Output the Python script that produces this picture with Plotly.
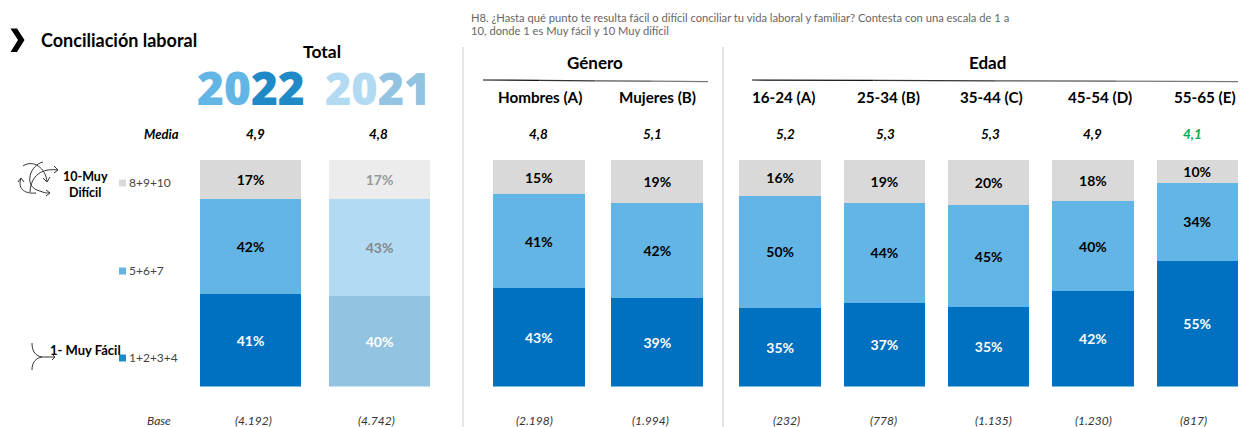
import plotly.graph_objects as go

W, H = 1242, 427
FONT = "Lato"

# ---- data ----
total_cats = ["2022", "2021"]
total_low = [41, 40]
total_mid = [42, 43]
total_high = [17, 17]

gender_cats = ["Hombres (A)", "Mujeres (B)"]
gender_low = [43, 39]
gender_mid = [41, 42]
gender_high = [15, 19]

age_cats = ["16-24 (A)", "25-34 (B)", "35-44 (C)", "45-54 (D)", "55-65 (E)"]
age_low = [35, 37, 35, 42, 55]
age_mid = [50, 44, 45, 40, 34]
age_high = [16, 19, 20, 18, 10]

media_labels = ["4,9", "4,8", "4,8", "5,1", "5,2", "5,3", "5,3", "4,9", "4,1"]
base_labels = ["(4.192)", "(4.742)", "(2.198)", "(1.994)", "(232)", "(778)", "(1.135)", "(1.230)", "(817)"]
legend_labels = ["8+9+10", "5+6+7", "1+2+3+4"]

# ---- styles ----
C_HIGH, C_MID, C_LOW = "#d9d9d9", "#63b5e5", "#0070c0"
C_HIGH_L, C_MID_L, C_LOW_L = "#ececec", "#b2daf3", "#92c3e0"
C_LEG_LOW = "#1f8ac6"


def px(x):
    return x / W


def py(y):
    return 1 - y / H


fig = go.Figure()


def add_stack(cats, low, mid, high, xa, ya, width, faded=False):
    n = len(cats)
    rows = [
        (low, C_LOW, C_LOW_L, "white", "white"),
        (mid, C_MID, C_MID_L, "black", "#888888"),
        (high, C_HIGH, C_HIGH_L, "black", "#999999"),
    ]
    for vals, col, col_l, tc, tc_l in rows:
        fade = [faded and i == 1 for i in range(n)]
        fig.add_trace(go.Bar(
            x=cats, y=vals, xaxis=xa, yaxis=ya, width=width,
            marker=dict(color=[col_l if f else col for f in fade], line=dict(width=0)),
            text=[f"{v}%" for v in vals],
            textposition="inside", insidetextanchor="middle", textangle=0,
            constraintext="none",
            textfont=dict(family=FONT, size=14, weight=700,
                          color=[tc_l if f else tc for f in fade]),
            showlegend=False, hoverinfo="skip",
        ))


add_stack(total_cats, total_low, total_mid, total_high, "x", "y", 0.783, faded=True)
add_stack(gender_cats, gender_low, gender_mid, gender_high, "x2", "y2", 0.78)
add_stack(age_cats, age_low, age_mid, age_high, "x3", "y3", 0.78)

ydom = [py(386.5), py(160)]
hidden = dict(visible=False, fixedrange=True)
fig.update_layout(
    width=W, height=H, margin=dict(l=0, r=0, t=0, b=0, pad=0),
    paper_bgcolor="white", plot_bgcolor="white",
    barmode="stack", barnorm="percent", showlegend=False,
    xaxis=dict(domain=[px(186), px(444)], range=[-0.5, 1.5], type="category", **hidden),
    xaxis2=dict(domain=[px(479.5), px(716.5)], range=[-0.5, 1.5], type="category", **hidden),
    xaxis3=dict(domain=[px(728), 1], range=[-0.5, 4.43], type="category", **hidden),
    yaxis=dict(domain=ydom, range=[0, 100], anchor="x", **hidden),
    yaxis2=dict(domain=ydom, range=[0, 100], anchor="x2", **hidden),
    yaxis3=dict(domain=ydom, range=[0, 100], anchor="x3", **hidden),
)


def txt(s, x, y, size, color="black", anchor="center", weight=400, italic=False, family=FONT, height=None):
    fig.add_annotation(
        text=s, xref="paper", yref="paper", x=px(x), y=py(y),
        xanchor=anchor, yanchor="middle", showarrow=False, align="left", height=height,
        font=dict(family=family, size=size, color=color, weight=weight,
                  style="italic" if italic else "normal"),
    )


def path(d, color="#333333", width=1, fill=None):
    parts = []
    for cmd in d:
        if isinstance(cmd, str):
            parts.append(cmd)
        else:
            parts.append(f"{px(cmd[0]):.5f},{py(cmd[1]):.5f}")
    s = " ".join(parts)
    fig.add_shape(type="path", path=s, xref="paper", yref="paper",
                  line=dict(color=color, width=width),
                  fillcolor=fill if fill else "rgba(0,0,0,0)")


# title and chevron
path(["M", (10.5, 28.5), "L", (17, 28.5), "L", (24.5, 40), "L", (17, 52), "L", (10.5, 52), "L", (18, 40), "Z"],
     color="black", width=0, fill="black")
txt("Conciliación laboral", 39, 39.5, 18, anchor="left", weight=700)
txt("Total", 322, 51, 17.5, weight=700)

# year headers with their two-tone digits
txt('<span style="color:#63b5e5">20</span><span style="color:#1f8ac6">22</span>', 251, 87, 46, weight=800,
    family="Open Sans", height=36)
txt('<span style="color:#b2daf3">20</span><span style="color:#92c3e0">21</span>', 377, 87, 45, weight=800,
    family="Open Sans", height=36)

# question text
txt("H8. ¿Hasta qué punto te resulta fácil o difícil conciliar tu vida laboral y familiar? Contesta con una escala de 1 a",
    469, 17, 11.2, color="#666666", anchor="left")
txt("10, donde 1 es Muy fácil y 10 Muy difícil", 469, 31, 11.2, color="#666666", anchor="left")

# group headers
txt("Género", 595, 63, 17, weight=700)
txt("Edad", 987, 63, 17, weight=700)
for x, c in zip([540, 657, 783, 888, 991, 1100, 1205], gender_cats + age_cats):
    txt(c, x, 97, 15.2, weight=700)

# mean and base rows
txt("Media", 161, 134, 13, italic=True, weight=700)
media_x = [255, 378, 538, 652, 785, 886, 990, 1092, 1192]
for i, (x, s) in enumerate(zip(media_x, media_labels)):
    txt(s, x, 134, 13.5, italic=True, weight=700, color="#00b050" if i == 8 else "black")
txt("Base", 159, 420, 12, italic=True, color="#333333")
base_x = [253, 376, 534, 650, 786, 883, 993, 1093, 1193]
for x, s in zip(base_x, base_labels):
    txt(s, x, 420, 12, italic=True, color="#333333")

# legend
for (y, col), s in zip([(183, C_HIGH), (271, C_MID), (358, C_LEG_LOW)], legend_labels):
    fig.add_shape(type="rect", xref="paper", yref="paper", x0=px(119), x1=px(126),
                  y0=py(y - 3.5), y1=py(y + 3.5), fillcolor=col, line=dict(width=0))
    txt(s, 127, y - 1, 12, color="#444444", anchor="left")

txt("10-Muy", 85, 176, 12.5, weight=700)
txt("Difícil", 85, 192, 12.5, weight=700)
txt("1- Muy Fácil", 85, 350, 13, weight=700)

# separators
for x in (463, 723):
    fig.add_shape(type="line", xref="paper", yref="paper", x0=px(x), x1=px(x),
                  y0=py(47), y1=py(427), line=dict(color="#cccccc", width=1))

# header rules fading from black to grey
shades = ["#111111", "#333333", "#555555", "#777777"]
for x0, x1 in ((483, 708), (752, 1238)):
    step = (x1 - x0) / len(shades)
    for i, col in enumerate(shades):
        fig.add_shape(type="line", xref="paper", yref="paper",
                      x0=px(x0 + i * step), x1=px(x0 + (i + 1) * step),
                      y0=py(80 + i * 0.4), y1=py(80 + (i + 1) * 0.4),
                      line=dict(color=col, width=1.2))

# hand-drawn arrows, top
path(["M", (43, 162), "C", (30, 165), (24, 185), (37, 190), "S", (46, 192), (50, 193)])
path(["M", (46, 190), "L", (50, 193), "L", (46, 196)])
path(["M", (23, 166), "C", (33, 159), (46, 168), (47, 182)])
path(["M", (43, 178), "L", (47, 182), "L", (50, 177)])
path(["M", (30, 192), "C", (31, 175), (42, 168), (58, 170)])
path(["M", (54, 166), "L", (58, 170), "L", (54, 173)])
path(["M", (21, 178), "C", (17, 190), (26, 194), (36, 193)])
path(["M", (18, 182), "L", (21, 178), "L", (24, 182)])

# hand-drawn arrows, bottom
path(["M", (32, 343), "C", (32, 352), (36, 356), (42, 357), "L", (55, 357)])
path(["M", (32, 370), "C", (32, 362), (36, 358), (42, 357)])
path(["M", (52, 354), "L", (55, 357), "L", (52, 360)])

fig.write_html("out.html", config={"displayModeBar": False},
               post_script="document.body.style.margin='0';document.documentElement.style.overflow='hidden';")
